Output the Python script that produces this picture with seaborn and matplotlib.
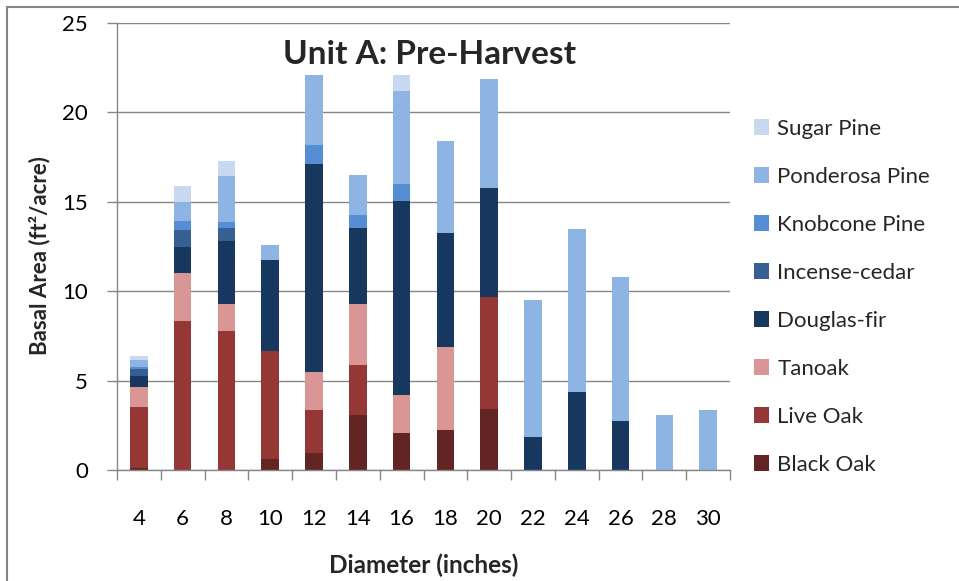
import matplotlib
matplotlib.use("Agg")
import matplotlib.pyplot as plt
from matplotlib.patches import Patch
from matplotlib.lines import Line2D
import seaborn as sns
import pandas as pd
import numpy as np

# Diameter classes (inches)
diameters = [4, 6, 8, 10, 12, 14, 16, 18, 20, 22, 24, 26, 28, 30]

# Basal area by species (ft^2/acre), bottom of stack first
black_oak     = [0.13, 0.00, 0.00, 0.63, 0.97, 3.06, 2.05, 2.26, 3.40, 0.00, 0.00, 0.00, 0.00, 0.00]
live_oak      = [3.41, 8.34, 7.76, 6.05, 2.41, 2.84, 0.00, 0.00, 6.28, 0.00, 0.00, 0.00, 0.00, 0.00]
tanoak        = [1.12, 2.65, 1.53, 0.00, 2.09, 3.37, 2.13, 4.62, 0.00, 0.00, 0.00, 0.00, 0.00, 0.00]
douglas_fir   = [0.62, 1.51, 3.49, 5.09, 11.62, 4.29, 10.89, 6.40, 6.10, 1.87, 4.38, 2.76, 0.00, 0.00]
incense_cedar = [0.39, 0.90, 0.78, 0.00, 0.00, 0.00, 0.00, 0.00, 0.00, 0.00, 0.00, 0.00, 0.00, 0.00]
knobcone_pine = [0.09, 0.54, 0.32, 0.00, 1.06, 0.71, 0.90, 0.00, 0.00, 0.00, 0.00, 0.00, 0.00, 0.00]
ponderosa     = [0.42, 1.04, 2.59, 0.80, 3.94, 2.22, 5.21, 5.12, 6.10, 7.63, 9.09, 8.02, 3.06, 3.38]
sugar_pine    = [0.20, 0.92, 0.82, 0.00, 0.00, 0.00, 0.91, 0.00, 0.00, 0.00, 0.00, 0.00, 0.00, 0.00]

species = ["Black Oak", "Live Oak", "Tanoak", "Douglas-fir",
           "Incense-cedar", "Knobcone Pine", "Ponderosa Pine", "Sugar Pine"]
values = [black_oak, live_oak, tanoak, douglas_fir,
          incense_cedar, knobcone_pine, ponderosa, sugar_pine]
colors = ["#632523", "#953735", "#D99694", "#17375E",
          "#376092", "#558ED5", "#8EB4E3", "#C6D9F1"]

rows = []
for sp, vals in zip(species, values):
    for d, v in zip(diameters, vals):
        rows.append({"Diameter": str(d), "Species": sp, "BA": v})
df = pd.DataFrame(rows)
df["Species"] = pd.Categorical(df["Species"], categories=species, ordered=True)
df = df.sort_values(["Diameter", "Species"])
df["Top"] = df.groupby("Diameter", observed=True)["BA"].cumsum()

sns.set_theme(style="white")
plt.rcParams["font.family"] = ["Lato", "DejaVu Sans"]

W, H = 959, 581
fig = plt.figure(figsize=(W / 100, H / 100), dpi=100)
ax = fig.add_axes([117 / W, 1 - 470 / H, (730 - 117) / W, (470 - 23) / H])

order = [str(d) for d in diameters]
gray = "#868686"

# Stacked bars: draw cumulative totals from the top layer downward
for sp, col in reversed(list(zip(species, colors))):
    sub = df[df["Species"] == sp]
    sns.barplot(data=sub, x="Diameter", y="Top", order=order, color=col,
                width=0.40, saturation=1, ax=ax, errorbar=None, zorder=3,
                linewidth=0)

ax.set_xlim(-0.5, len(diameters) - 0.5)
ax.set_ylim(0, 25)
ax.set_yticks(np.arange(0, 26, 5))
ax.yaxis.grid(True, color=gray, linewidth=1.0, zorder=0)
ax.set_axisbelow(True)
for s in ["top", "right"]:
    ax.spines[s].set_visible(False)
for s in ["left", "bottom"]:
    ax.spines[s].set_color(gray)
    ax.spines[s].set_linewidth(1.0)
    ax.spines[s].set_zorder(4)

ax.set_xticks(range(len(diameters)))
ax.set_xticklabels(order)
ax.set_xticks(np.arange(-0.5, len(diameters), 1.0), minor=True)
ax.tick_params(axis="x", which="major", length=0, pad=28, labelsize=16, colors="black")
ax.tick_params(axis="x", which="minor", length=7, width=1.0, color=gray, direction="out", bottom=True)
ax.tick_params(axis="y", length=7, width=1.0, color=gray, direction="out", left=True,
               pad=14, labelsize=16, labelcolor="black")
ax.set_xlabel("")
ax.set_ylabel("")

fig.text(430 / W, 1 - 55 / H, "Unit A: Pre-Harvest", ha="center", va="center",
         fontsize=24, fontweight="bold")
fig.text(424 / W, 1 - 565 / H, "Diameter (inches)", ha="center", va="center",
         fontsize=17.5, fontweight="bold")
fig.text(40 / W, 1 - 355 / H, "Basal Area (ft²/acre)", ha="center", va="bottom",
         rotation=90, fontsize=16, fontweight="bold")

handles = [Patch(facecolor=c, edgecolor="none", label=s)
           for s, c in reversed(list(zip(species, colors)))]
fig.legend(handles=handles, loc="upper left", bbox_to_anchor=(745 / W, 1 - 110 / H),
           frameon=False, fontsize=16, handlelength=0.7, handleheight=0.7,
           handletextpad=0.35, labelspacing=1.26, borderaxespad=0)

# Outer chart frame (left and top edges)
fig.add_artist(Line2D([7 / W, 7 / W], [0, 1 - 7 / H], color=gray, linewidth=1.5))
fig.add_artist(Line2D([7 / W, 1], [1 - 7 / H, 1 - 7 / H], color=gray, linewidth=1.5))

fig.savefig("out.png", dpi=100)
